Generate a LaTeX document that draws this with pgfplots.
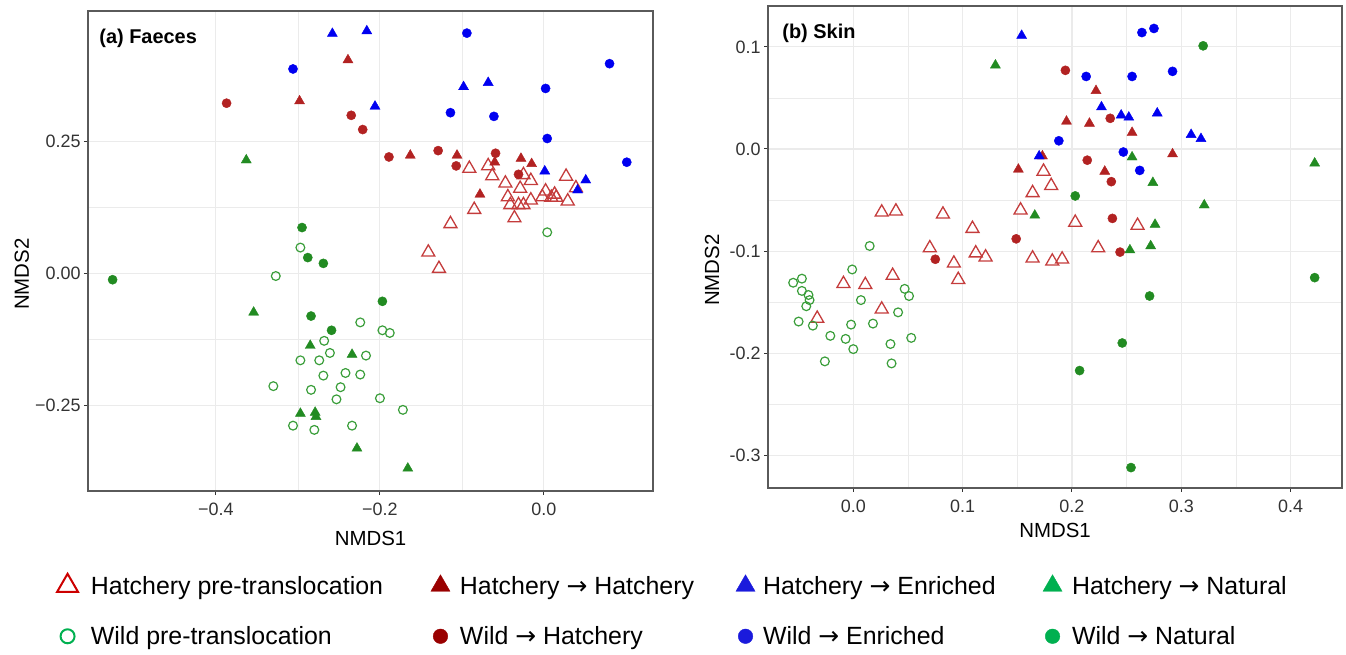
\documentclass[border=0pt]{standalone}
\usepackage{fontspec}
\setmainfont{Liberation Sans}
\newfontfamily\arrowfont{DejaVu Sans}
\usepackage{pgfplots}
\pgfplotsset{compat=1.18}

\definecolor{hred}{HTML}{B22222}
\definecolor{ored}{HTML}{C43C3C}
\definecolor{hblue}{HTML}{0000F0}
\definecolor{hgreen}{HTML}{228B22}
\definecolor{ogreen}{HTML}{3A9E3A}
\definecolor{gridc}{HTML}{EBEBEB}
\definecolor{bordc}{HTML}{5A5A5A}
\definecolor{lred}{HTML}{CC0000}
\definecolor{ldred}{HTML}{990000}
\definecolor{lblue}{HTML}{1A1ADC}
\definecolor{lgreen}{HTML}{00B050}

\pgfplotsset{
  nmds/.style={
    scale only axis,
    axis line style={draw=bordc, line width=1.2bp},
    grid=both, minor tick num=1,
    major grid style={draw=gridc, line width=1.1bp},
    minor grid style={draw=gridc, line width=0.8bp},
    tick pos=left, tick align=outside,
    major tick length=4bp, minor tick length=0pt,
    tick style={draw=black!80, line width=1bp},
    ticklabel style={font=\fontsize{18}{20}\selectfont, text=black!80},
    xticklabel style={yshift=-4bp},
    label style={font=\fontsize{20.5}{22}\selectfont},
    /pgf/number format/assume math mode=true,
  },
  hpre/.style={only marks, mark=triangle, mark size=7.5bp, color=ored, mark options={line width=1.3bp}, forget plot},
  wpre/.style={only marks, mark=o, mark size=4.4bp, color=ogreen, mark options={line width=1.2bp}, forget plot},
  hh/.style={only marks, mark=triangle*, mark size=5.8bp, color=hred, forget plot},
  wh/.style={only marks, mark=*, mark size=4.6bp, color=hred, forget plot},
  he/.style={only marks, mark=triangle*, mark size=5.8bp, color=hblue, forget plot},
  we/.style={only marks, mark=*, mark size=4.6bp, color=hblue, forget plot},
  hn/.style={only marks, mark=triangle*, mark size=5.8bp, color=hgreen, forget plot},
  wn/.style={only marks, mark=*, mark size=4.6bp, color=hgreen, forget plot},
}
\newcommand{\lstrut}{\rule[-6bp]{0pt}{24bp}}
\newcommand{\arr}{{\arrowfont →}}

\begin{document}
\begin{tikzpicture}
\useasboundingbox (0,0) rectangle (1346bp,655bp);

% (a) Faeces
\begin{axis}[nmds,
  at={(88bp,164bp)}, anchor=south west,
  width=565bp, height=480bp,
  xmin=-0.556, xmax=0.133, ymin=-0.413, ymax=0.498,
  xtick={-0.4,-0.2,0}, xticklabels={−0.4,−0.2,0.0},
  ytick={-0.25,0,0.25}, yticklabels={−0.25,0.00,0.25},
  xlabel={NMDS1}, ylabel={NMDS2},
  xlabel style={at={(axis description cs:0.5,-0.098)}, anchor=center},
  ylabel style={at={(axis description cs:-0.117,0.452)}, anchor=center},
  legend columns=4, legend cell align=left,
  legend style={at={(axis description cs:-0.0549,-0.172)}, anchor=north west,
    draw=none, fill=none, inner sep=0pt, column sep=0pt, row sep=27bp,
    font=\fontsize{25}{26}\selectfont},
  legend image code/.code={\draw[#1] plot coordinates {(0bp,0bp)};},
]
\addplot[hpre] coordinates {
(-0.091,0.199) (-0.068,0.204) (-0.063,0.185) (-0.047,0.171) (-0.029,0.161)
(-0.025,0.187) (-0.016,0.176) (0.027,0.184) (-0.044,0.145) (-0.016,0.139)
(0.002,0.156) (-0.002,0.145) (0.013,0.150) (0.015,0.144) (0.009,0.144)
(0.029,0.137) (-0.041,0.130) (-0.031,0.130) (-0.025,0.130) (0.039,0.162)
(-0.036,0.105) (-0.085,0.121) (-0.114,0.094) (-0.141,0.040) (-0.128,0.009)};
\addplot[wpre] coordinates {
(-0.297,0.049) (-0.327,-0.005) (0.004,0.078) (-0.224,-0.093) (-0.197,-0.108)
(-0.188,-0.113) (-0.268,-0.128) (-0.261,-0.151) (-0.217,-0.156) (-0.297,-0.165)
(-0.274,-0.165) (-0.269,-0.194) (-0.242,-0.189) (-0.224,-0.192) (-0.330,-0.214)
(-0.284,-0.221) (-0.248,-0.216) (-0.253,-0.239) (-0.200,-0.237) (-0.172,-0.259)
(-0.306,-0.289) (-0.280,-0.297) (-0.234,-0.289)};
\addplot[hh] coordinates {
(-0.239,0.405) (-0.298,0.327) (-0.163,0.224) (-0.106,0.224) (-0.060,0.211)
(-0.028,0.218) (-0.015,0.208) (-0.078,0.150)};
\addplot[wh] coordinates {
(-0.387,0.323) (-0.235,0.300) (-0.221,0.273) (-0.189,0.221) (-0.129,0.233)
(-0.107,0.204) (-0.059,0.228) (-0.031,0.188)};
\addplot[he] coordinates {
(-0.258,0.455) (-0.216,0.460) (-0.206,0.317) (-0.098,0.354) (-0.068,0.362)
(0.001,0.194) (0.051,0.177) (0.041,0.158)};
\addplot[we] coordinates {
(-0.306,0.388) (-0.094,0.456) (0.080,0.398) (0.002,0.351) (-0.114,0.305)
(-0.061,0.298) (0.004,0.256) (0.101,0.211)};
\addplot[hn] coordinates {
(-0.363,0.215) (-0.354,-0.074) (-0.285,-0.137) (-0.234,-0.154) (-0.297,-0.266)
(-0.279,-0.264) (-0.278,-0.272) (-0.228,-0.332) (-0.166,-0.370)};
\addplot[wn] coordinates {
(-0.295,0.087) (-0.288,0.030) (-0.269,0.019) (-0.526,-0.012) (-0.197,-0.053)
(-0.284,-0.081) (-0.259,-0.108)};

\node[anchor=west, font=\bfseries\fontsize{20}{22}\selectfont] at (axis description cs:0.014,0.944) {(a) Faeces};

% legend (row 1: hatchery, row 2: wild)
\addlegendimage{only marks, mark=triangle, mark size=12bp, draw=lred, line width=2bp}
\addlegendentry{\hspace*{11bp}\makebox[338bp][l]{Hatchery pre-translocation\lstrut}}
\addlegendimage{only marks, mark=triangle*, mark size=11bp, draw=ldred, fill=ldred}
\addlegendentry{\hspace*{8bp}\makebox[274bp][l]{Hatchery \arr{} Hatchery\lstrut}}
\addlegendimage{only marks, mark=triangle*, mark size=11bp, draw=lblue, fill=lblue}
\addlegendentry{\hspace*{6bp}\makebox[278bp][l]{Hatchery \arr{} Enriched\lstrut}}
\addlegendimage{only marks, mark=triangle*, mark size=11bp, draw=lgreen, fill=lgreen}
\addlegendentry{\hspace*{8bp}\makebox[230bp][l]{Hatchery \arr{} Natural\lstrut}}
\addlegendimage{only marks, mark=o, mark size=7bp, draw=lgreen, line width=2bp}
\addlegendentry{\hspace*{11bp}\makebox[338bp][l]{Wild pre-translocation\lstrut}}
\addlegendimage{only marks, mark=*, mark size=7.3bp, draw=ldred, fill=ldred}
\addlegendentry{\hspace*{8bp}\makebox[274bp][l]{Wild \arr{} Hatchery\lstrut}}
\addlegendimage{only marks, mark=*, mark size=7.3bp, draw=lblue, fill=lblue}
\addlegendentry{\hspace*{6bp}\makebox[278bp][l]{Wild \arr{} Enriched\lstrut}}
\addlegendimage{only marks, mark=*, mark size=7.3bp, draw=lgreen, fill=lgreen}
\addlegendentry{\hspace*{8bp}\makebox[230bp][l]{Wild \arr{} Natural\lstrut}}
\end{axis}

% (b) Skin
\begin{axis}[nmds,
  at={(768bp,167bp)}, anchor=south west,
  width=574bp, height=482bp,
  xmin=-0.078, xmax=0.447, ymin=-0.332, ymax=0.140,
  xtick={0,0.1,0.2,0.3,0.4}, xticklabels={0.0,0.1,0.2,0.3,0.4},
  ytick={-0.3,-0.2,-0.1,0,0.1}, yticklabels={-0.3,-0.2,-0.1,0.0,0.1},
  xlabel={NMDS1}, ylabel={NMDS2},
  xlabel style={at={(axis description cs:0.5,-0.089)}, anchor=center},
  ylabel style={at={(axis description cs:-0.0976,0.452)}, anchor=center},
]
\addplot[hpre] coordinates {
(0.026,-0.062) (0.039,-0.061) (0.082,-0.064) (0.153,-0.060) (0.109,-0.078)
(0.070,-0.097) (0.092,-0.112) (0.112,-0.102) (0.121,-0.106) (0.096,-0.128)
(0.036,-0.124) (-0.009,-0.132) (0.011,-0.133) (0.026,-0.157) (-0.033,-0.166)
(0.174,-0.022) (0.181,-0.036) (0.164,-0.043) (0.203,-0.072) (0.260,-0.075)
(0.224,-0.097) (0.164,-0.107) (0.182,-0.110) (0.191,-0.108)};
\addplot[wpre] coordinates {
(0.015,-0.095) (-0.001,-0.118) (-0.055,-0.131) (-0.047,-0.127) (-0.047,-0.139)
(-0.041,-0.143) (-0.040,-0.148) (-0.043,-0.154) (-0.050,-0.169) (-0.037,-0.173)
(0.007,-0.148) (-0.002,-0.172) (0.018,-0.171) (0.047,-0.137) (0.051,-0.144)
(0.041,-0.160) (-0.021,-0.183) (-0.007,-0.186) (0.000,-0.196) (0.034,-0.191)
(0.053,-0.185) (-0.026,-0.208) (0.035,-0.210)};
\addplot[hh] coordinates {
(0.151,-0.020) (0.222,0.057) (0.195,0.027) (0.216,0.025) (0.255,0.016)
(0.173,-0.007) (0.292,-0.005) (0.230,-0.022)};
\addplot[wh] coordinates {
(0.149,-0.088) (0.075,-0.108) (0.194,0.077) (0.235,0.030) (0.214,-0.011)
(0.236,-0.032) (0.237,-0.068) (0.244,-0.101)};
\addplot[he] coordinates {
(0.154,0.111) (0.227,0.041) (0.245,0.033) (0.252,0.031) (0.278,0.035)
(0.309,0.014) (0.318,0.010) (0.170,-0.007)};
\addplot[we] coordinates {
(0.264,0.114) (0.275,0.118) (0.213,0.071) (0.255,0.071) (0.292,0.076)
(0.188,0.008) (0.247,-0.003) (0.262,-0.021)};
\addplot[hn] coordinates {
(0.130,0.082) (0.255,-0.008) (0.422,-0.014) (0.274,-0.033) (0.321,-0.055)
(0.166,-0.065) (0.276,-0.074) (0.253,-0.099) (0.272,-0.095)};
\addplot[wn] coordinates {
(0.320,0.101) (0.203,-0.046) (0.422,-0.126) (0.271,-0.144) (0.246,-0.190)
(0.207,-0.217) (0.254,-0.312)};

\node[anchor=west, font=\bfseries\fontsize{20}{22}\selectfont] at (axis description cs:0.019,0.944) {(b) Skin};
\end{axis}
\end{tikzpicture}
\end{document}
